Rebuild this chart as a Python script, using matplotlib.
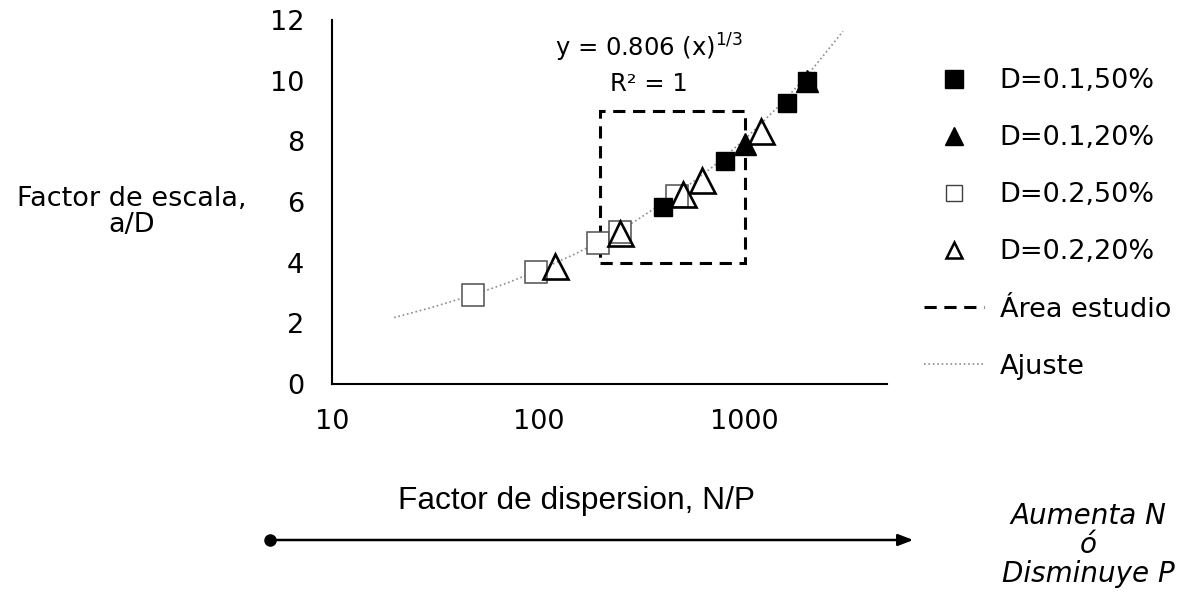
import matplotlib.pyplot as plt
from matplotlib.lines import Line2D
from matplotlib.patches import Rectangle

plt.rcParams['font.family'] = ['DejaVu Sans']

# Series (x = N/P, y = a/D)
d01_50_x = [400, 800, 1600, 2000]
d01_50_y = [5.85, 7.35, 9.28, 10.0]

d01_20_x = [1000, 2000]
d01_20_y = [7.92, 10.0]

d02_50_x = [48, 97, 195, 250, 470]
d02_50_y = [2.94, 3.69, 4.65, 5.0, 6.2]

d02_20_x = [120, 250, 500, 620, 1200]
d02_20_y = [3.9, 4.98, 6.28, 6.72, 8.35]

# Trend line points
fit_x = [20, 30, 50, 70, 100, 150, 200, 300, 500, 700, 1000, 1500, 2000, 3000]
fit_y = [2.19, 2.51, 2.97, 3.32, 3.74, 4.28, 4.71, 5.40, 6.40, 7.16, 8.06, 9.23, 10.15, 11.63]

# Study area box
area_x = [200, 1000]
area_y = [4, 9]

y_ticks = [0, 2, 4, 6, 8, 10, 12]
x_ticks = [10, 100, 1000]

W, H = 1191, 594
fig = plt.figure(figsize=(W / 100, H / 100), dpi=100)
ax = fig.add_axes([332 / W, 1 - 384 / H, 555 / W, 364 / H])

ax.plot(fit_x, fit_y, linestyle=':', color='#8c8c8c', linewidth=1.2, zorder=1)

ax.add_patch(Rectangle((area_x[0], area_y[0]), area_x[1] - area_x[0], area_y[1] - area_y[0],
                       fill=False, linestyle=(0, (4, 2.5)), linewidth=2.2, edgecolor='black', zorder=2))

ax.plot(d02_50_x, d02_50_y, linestyle='none', marker='s', markersize=15.5,
        markerfacecolor='white', markeredgecolor='#505050', markeredgewidth=1.1, zorder=3)
ax.plot(d01_20_x, d01_20_y, linestyle='none', marker='^', markersize=15.5,
        markerfacecolor='black', markeredgecolor='black', zorder=4)
ax.plot(d01_50_x, d01_50_y, linestyle='none', marker='s', markersize=13.5,
        markerfacecolor='black', markeredgecolor='black', zorder=5)
ax.plot(d02_20_x, d02_20_y, linestyle='none', marker='^', markersize=18,
        markerfacecolor='none', markeredgecolor='black', markeredgewidth=1.9, zorder=6)

ax.set_xscale('log')
ax.set_xlim(10, 4900)
ax.set_ylim(0, 12)
ax.set_yticks(y_ticks)
ax.set_xticks(x_ticks)
ax.set_xticklabels([str(t) for t in x_ticks])
ax.xaxis.set_minor_locator(plt.NullLocator())
ax.tick_params(axis='both', length=0, labelsize=19.5)
ax.tick_params(axis='y', pad=20)
ax.tick_params(axis='x', pad=18)
for s in ['top', 'right']:
    ax.spines[s].set_visible(False)
for s in ['left', 'bottom']:
    ax.spines[s].set_linewidth(1.5)

# fit equation
ax.text(0.571, (384 - 57) / 364, 'y = 0.806 (x)$^{1/3}$', transform=ax.transAxes,
        ha='center', va='baseline', fontsize=17.5)
ax.text(0.571, (384 - 91) / 364, 'R² = 1', transform=ax.transAxes,
        ha='center', va='baseline', fontsize=17.5)

fig.text(132 / W, 1 - 212 / H, 'Factor de escala,\na/D', ha='center', va='center',
         fontsize=19.5, multialignment='center', linespacing=1.0)

# legend
handles = [
    Line2D([], [], linestyle='none', marker='s', markersize=13, markerfacecolor='black', markeredgecolor='black'),
    Line2D([], [], linestyle='none', marker='^', markersize=13, markerfacecolor='black', markeredgecolor='black'),
    Line2D([], [], linestyle='none', marker='s', markersize=11, markerfacecolor='white', markeredgecolor='#404040', markeredgewidth=1.0),
    Line2D([], [], linestyle='none', marker='^', markersize=12, markerfacecolor='none', markeredgecolor='black', markeredgewidth=1.8),
    Line2D([], [], linestyle=(0, (4, 2.5)), color='black', linewidth=2.2),
    Line2D([], [], linestyle=':', color='#8c8c8c', linewidth=1.2),
]
labels = ['D=0.1,50%', 'D=0.1,20%', 'D=0.2,50%', 'D=0.2,20%', 'Área estudio', 'Ajuste']
fig.legend(handles, labels, loc='upper left', bbox_to_anchor=(924 / W, 1 - 68 / H),
           frameon=False, fontsize=19.5, labelspacing=1.15, handlelength=2.2,
           handletextpad=0.6, borderpad=0, borderaxespad=0)

fig.text(576 / W, 1 - 509 / H, 'Factor de dispersion, N/P', ha='center', va='baseline',
         fontsize=22.8, family='Liberation Sans')
fig.text(1088 / W, 1 - 545 / H, 'Aumenta N\nó\nDisminuye P', ha='center', va='center',
         fontsize=20, style='italic', multialignment='center', linespacing=1.05)

# arrow along the bottom
over = fig.add_axes([0, 0, 1, 1], facecolor='none')
over.set_xlim(0, W)
over.set_ylim(H, 0)
over.axis('off')
over.annotate('', xy=(916, 540), xytext=(270, 540),
              arrowprops=dict(arrowstyle='-|>,head_length=0.9,head_width=0.35', color='black', linewidth=1.8))
over.plot([270], [540], marker='o', markersize=8, color='black')

fig.savefig('out.png', dpi=100)
